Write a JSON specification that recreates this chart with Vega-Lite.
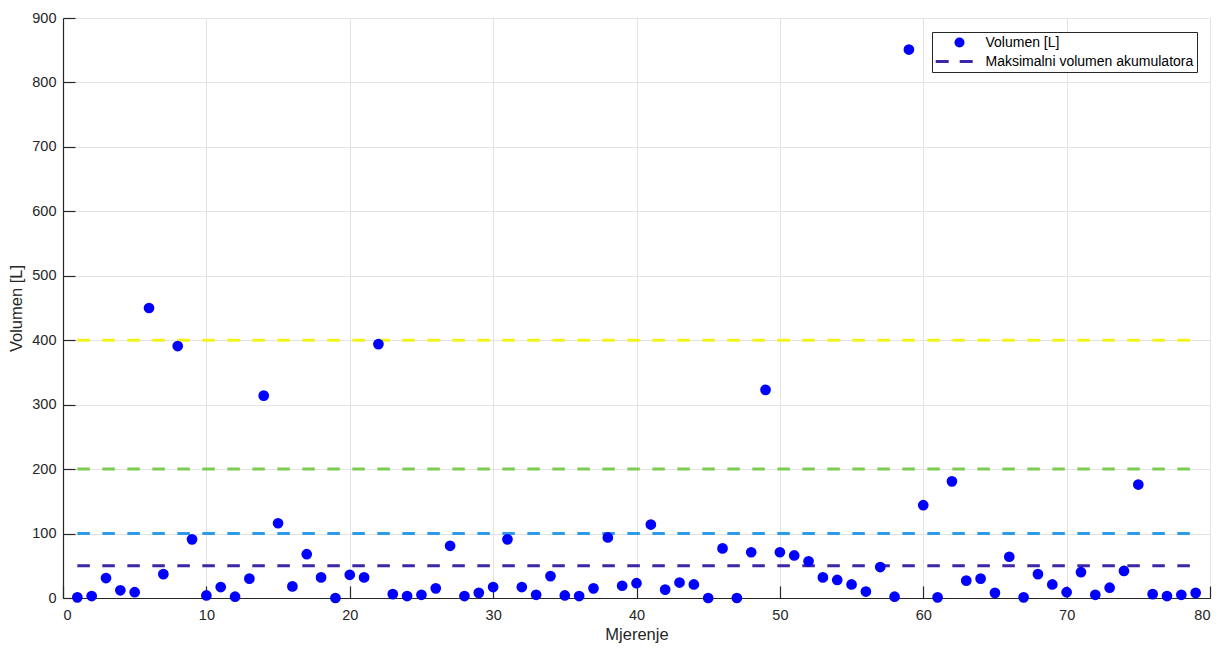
{
  "$schema": "https://vega.github.io/schema/vega-lite/v6.json",
  "width": 1147,
  "height": 580,
  "autosize": {"type": "none"},
  "padding": {"left": 63, "top": 18, "right": 8, "bottom": 50},
  "background": "white",
  "config": {
    "view": {"stroke": null},
    "font": "Liberation Sans",
    "axis": {
      "domainColor": "#262626",
      "tickColor": "#262626",
      "labelColor": "#262626",
      "titleColor": "#262626",
      "labelFont": "Liberation Sans",
      "titleFont": "Liberation Sans",
      "labelFontSize": 14.5,
      "titleFontSize": 16.5,
      "titleFontWeight": "normal",
      "gridColor": "#e3e3e3",
      "gridWidth": 1,
      "tickSize": -12,
      "domainWidth": 1.2,
      "tickWidth": 1.2
    }
  },
  "datasets": {
    "pts": [
      {"m": 1, "v": 1}, {"m": 2, "v": 3}, {"m": 3, "v": 31}, {"m": 4, "v": 12}, {"m": 5, "v": 9},
      {"m": 6, "v": 450}, {"m": 7, "v": 37}, {"m": 8, "v": 391}, {"m": 9, "v": 91}, {"m": 10, "v": 4},
      {"m": 11, "v": 17}, {"m": 12, "v": 2}, {"m": 13, "v": 30}, {"m": 14, "v": 314}, {"m": 15, "v": 116},
      {"m": 16, "v": 18}, {"m": 17, "v": 68}, {"m": 18, "v": 32}, {"m": 19, "v": 0}, {"m": 20, "v": 36},
      {"m": 21, "v": 32}, {"m": 22, "v": 394}, {"m": 23, "v": 6}, {"m": 24, "v": 3}, {"m": 25, "v": 5},
      {"m": 26, "v": 15}, {"m": 27, "v": 81}, {"m": 28, "v": 3}, {"m": 29, "v": 8}, {"m": 30, "v": 17},
      {"m": 31, "v": 91}, {"m": 32, "v": 17}, {"m": 33, "v": 5}, {"m": 34, "v": 34}, {"m": 35, "v": 4},
      {"m": 36, "v": 3}, {"m": 37, "v": 15}, {"m": 38, "v": 94}, {"m": 39, "v": 19}, {"m": 40, "v": 23},
      {"m": 41, "v": 114}, {"m": 42, "v": 13}, {"m": 43, "v": 24}, {"m": 44, "v": 21}, {"m": 45, "v": 0},
      {"m": 46, "v": 77}, {"m": 47, "v": 0}, {"m": 48, "v": 71}, {"m": 49, "v": 323}, {"m": 50, "v": 71},
      {"m": 51, "v": 66}, {"m": 52, "v": 57}, {"m": 53, "v": 32}, {"m": 54, "v": 28}, {"m": 55, "v": 21},
      {"m": 56, "v": 10}, {"m": 57, "v": 48}, {"m": 58, "v": 2}, {"m": 59, "v": 851}, {"m": 60, "v": 144},
      {"m": 61, "v": 1}, {"m": 62, "v": 181}, {"m": 63, "v": 27}, {"m": 64, "v": 30}, {"m": 65, "v": 8},
      {"m": 66, "v": 64}, {"m": 67, "v": 1}, {"m": 68, "v": 37}, {"m": 69, "v": 21}, {"m": 70, "v": 9},
      {"m": 71, "v": 40}, {"m": 72, "v": 5}, {"m": 73, "v": 16}, {"m": 74, "v": 42}, {"m": 75, "v": 176},
      {"m": 76, "v": 6}, {"m": 77, "v": 3}, {"m": 78, "v": 5}, {"m": 79, "v": 8}
    ],
    "lines": [
      {"x1": 1, "x2": 79, "y": 50, "lvl": "50"},
      {"x1": 1, "x2": 79, "y": 100, "lvl": "100"},
      {"x1": 1, "x2": 79, "y": 200, "lvl": "200"},
      {"x1": 1, "x2": 79, "y": 400, "lvl": "400"}
    ]
  },
  "resolve": {"scale": {"color": "independent"}, "legend": {"color": "independent"}},
  "layer": [
    {
      "data": {"name": "lines"},
      "mark": {"type": "rule", "strokeWidth": 3, "strokeDash": [12.5, 12.5]},
      "encoding": {
        "x": {"field": "x1", "type": "quantitative", "scale": {"domain": [0, 80], "nice": false}, "axis": {"values": [0,10,20,30,40,50,60,70,80], "title": "Mjerenje", "titlePadding": 5, "labelPadding": 22}},
        "x2": {"field": "x2"},
        "y": {"field": "y", "type": "quantitative", "scale": {"domain": [0, 900], "nice": false}, "axis": {"values": [0,100,200,300,400,500,600,700,800,900], "title": "Volumen [L]", "titlePadding": 7, "labelPadding": 19}},
        "color": {"field": "lvl", "type": "nominal", "scale": {"domain": ["50", "100", "200", "400"], "range": ["#3d26a8", "#2d9be8", "#7dcb50", "#f3f31a"]}, "legend": null}
      }
    },
    {
      "data": {"name": "pts"},
      "transform": [{"calculate": "'Volumen [L]'", "as": "s"}],
      "mark": {"type": "point", "filled": true, "opacity": 1, "size": 115},
      "encoding": {
        "x": {"field": "m", "type": "quantitative"},
        "y": {"field": "v", "type": "quantitative"},
        "color": {
          "field": "s", "type": "nominal",
          "scale": {"domain": ["Volumen [L]", "Maksimalni volumen akumulatora"], "range": ["#0000ff", "#3d26a8"]},
          "legend": {
            "title": null, "orient": "none", "legendX": 869, "legendY": 14,
            "strokeColor": "#262626", "fillColor": "white", "padding": 3.5,
            "labelFont": "Liberation Sans", "labelFontSize": 14, "labelColor": "#000000", "labelLimit": 500,
            "symbolSize": 100, "symbolOffset": 17, "labelOffset": 19, "rowPadding": 5,
            "symbolStrokeWidth": 0,
            "encoding": {
              "symbols": {
                "shape": {"value": {"expr": "datum.value === 'Volumen [L]' ? 'circle' : 'M-4.76,-0.3H-2.16V0.3H-4.76Z M0.04,-0.3H2.64V0.3H0.04Z'"}}
              }
            }
          }
        }
      }
    }
  ]
}
